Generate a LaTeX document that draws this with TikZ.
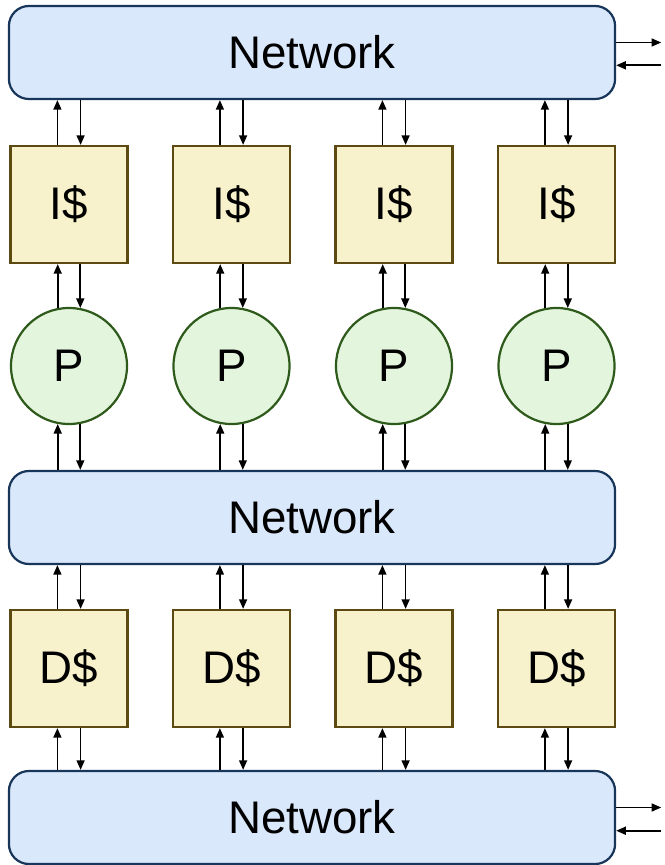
\documentclass[tikz,border=0pt]{standalone}
\usepackage{fontspec}
\setmainfont{Liberation Sans}
\usepackage{tikz}
\usetikzlibrary{arrows.meta, calc, positioning}

\definecolor{netfill}{HTML}{DAE8FC}
\definecolor{netline}{HTML}{18355A}
\definecolor{cachefill}{HTML}{F7F2CB}
\definecolor{cacheline}{HTML}{5C4A12}
\definecolor{procfill}{HTML}{E3F5DD}
\definecolor{procline}{HTML}{2E5A1B}

\tikzset{
    netbox/.style={draw=netline, fill=netfill, line width=0.055cm, rounded corners=0.5cm,
        minimum width=15.15cm, minimum height=2.325cm, font=\fontsize{32.5}{38}\selectfont},
    cachebox/.style={draw=cacheline, fill=cachefill, line width=0.055cm,
        minimum width=2.925cm, minimum height=2.925cm, font=\fontsize{32.5}{38}\selectfont},
    procnode/.style={circle, draw=procline, fill=procfill, line width=0.055cm,
        minimum size=2.9cm, inner sep=0pt, font=\fontsize{32.5}{38}\selectfont},
    link/.style={-{Triangle[length=0.24cm, width=0.2cm]}, line width=0.04cm, black}
}

\begin{document}
\begin{tikzpicture}[x=0.025cm, y=-0.025cm]
    \useasboundingbox (0,0) rectangle (664,865);

    % Networks
    \node[netbox] (nettop) at (312,52.5) {Network};
    \node[netbox] (netmid) at (312,517.5) {Network};
    \node[netbox] (netbot) at (312,817.5) {Network};

    % Caches and processors
    \foreach \i/\x in {1/69, 2/231.5, 3/394, 4/556.5} {
        \node[cachebox] (icache\i) at (\x,204.5) {I\$};
        \node[procnode] (proc\i) at (\x,366) {P};
        \node[cachebox] (dcache\i) at (\x,668.5) {D\$};
    }

    % Vertical links
    \def\dx{0.29cm}
    \foreach \i in {1,...,4} {
        \draw[link] ([xshift=-\dx]icache\i.north) -- ([xshift=-\dx]icache\i.north |- nettop.south);
        \draw[link] ([xshift=\dx]icache\i.north |- nettop.south) -- ([xshift=\dx]icache\i.north);
        \draw[link] (proc\i.101) -- (proc\i.101 |- icache\i.south);
        \draw[link] (proc\i.79 |- icache\i.south) -- (proc\i.79);
        \draw[link] (proc\i.259 |- netmid.north) -- (proc\i.259);
        \draw[link] (proc\i.281) -- (proc\i.281 |- netmid.north);
        \draw[link] ([xshift=-\dx]dcache\i.north) -- ([xshift=-\dx]dcache\i.north |- netmid.south);
        \draw[link] ([xshift=\dx]dcache\i.north |- netmid.south) -- ([xshift=\dx]dcache\i.north);
        \draw[link] ([xshift=-\dx]dcache\i.south |- netbot.north) -- ([xshift=-\dx]dcache\i.south);
        \draw[link] ([xshift=\dx]dcache\i.south) -- ([xshift=\dx]dcache\i.south |- netbot.north);
    }

    % Off-chip links
    \coordinate[right=1.125cm of nettop.east] (exttop);
    \coordinate[right=1.125cm of netbot.east] (extbot);
    \draw[link] ([yshift=0.25cm]nettop.east) -- ([yshift=0.25cm]exttop);
    \draw[link] ([yshift=-0.32cm]exttop) -- ([yshift=-0.32cm]nettop.east);
    \draw[link] ([yshift=0.25cm]netbot.east) -- ([yshift=0.25cm]extbot);
    \draw[link] ([yshift=-0.33cm]extbot) -- ([yshift=-0.33cm]netbot.east);
\end{tikzpicture}
\end{document}
